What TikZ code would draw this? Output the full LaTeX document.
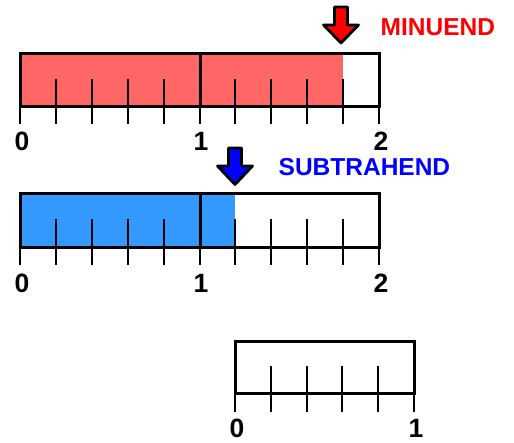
\documentclass[tikz,border=0pt]{standalone}
\usepackage{fontspec}
\setmainfont{Liberation Sans}
\definecolor{minfill}{HTML}{FF6666}
\definecolor{subfill}{HTML}{3399FF}
\definecolor{minred}{HTML}{FF0000}
\definecolor{subblue}{HTML}{0000FF}
\begin{document}
\begin{tikzpicture}[x=1pt,y=-1pt,
  frame/.style={line width=3pt},
  tickline/.style={line width=2pt},
  numlab/.style={font=\fontsize{26.5}{26.5}\selectfont\bfseries, inner sep=0pt},
  word/.style={font=\fontsize{24.5}{24.5}\selectfont\bfseries, inner sep=0pt, anchor=west},
  blockarrow/.style={line width=2.8pt, line join=round, draw=black}]
\useasboundingbox (0,0) rectangle (514,442);

% ---------- top bar (minuend) ----------
\fill[minfill] (20,53) rectangle (343.1,106);
\foreach \i in {1,2,3,4,6,7,8,9} \draw[tickline] ({20+\i*35.9},79) -- ({20+\i*35.9},124);
\foreach \i in {0,5,10} \draw[tickline] ({20+\i*35.9},106) -- ({20+\i*35.9},124);
\draw[frame] (200,53) -- (200,106);
\draw[frame] (20,53) rectangle (379,106);
\node[numlab] (a0) at (22,141) {0};
\node[numlab] (a1) at (201,141) {1};
\node[numlab] (a2) at (381,141) {2};
\filldraw[blockarrow, fill=minred] (334.5,7) -- (347.5,7) -- (347.5,25) -- (358.5,25) -- (341,43) -- (323.5,25) -- (334.5,25) -- cycle;
\node[word, text=minred] (minuend) at (380.5,27) {MINUEND};

% ---------- middle bar (subtrahend) ----------
\fill[subfill] (20,193) rectangle (235.4,247);
\foreach \i in {1,2,3,4,6,7,8,9} \draw[tickline] ({20+\i*35.9},219) -- ({20+\i*35.9},265);
\foreach \i in {0,5,10} \draw[tickline] ({20+\i*35.9},247) -- ({20+\i*35.9},265);
\draw[frame] (200,193) -- (200,247);
\draw[frame] (20,193) rectangle (379,247);
\node[numlab] (b0) at (22,283) {0};
\node[numlab] (b1) at (201,283) {1};
\node[numlab] (b2) at (381,283) {2};
\filldraw[blockarrow, fill=subblue] (228.5,148) -- (241.5,148) -- (241.5,166) -- (252.5,166) -- (235,184.5) -- (217.5,166) -- (228.5,166) -- cycle;
\node[word, text=subblue] (subtrahend) at (278.5,167) {SUBTRAHEND};

% ---------- bottom bar (difference) ----------
\foreach \i in {1,2,3,4} \draw[tickline] ({235+\i*35.8},366) -- ({235+\i*35.8},412);
\foreach \i in {0,5} \draw[tickline] ({235+\i*35.8},393) -- ({235+\i*35.8},412);
\draw[frame] (235,341) rectangle (414,393);
\node[numlab] (c0) at (237,428) {0};
\node[numlab] (c1) at (416,428) {1};
\end{tikzpicture}
\end{document}
